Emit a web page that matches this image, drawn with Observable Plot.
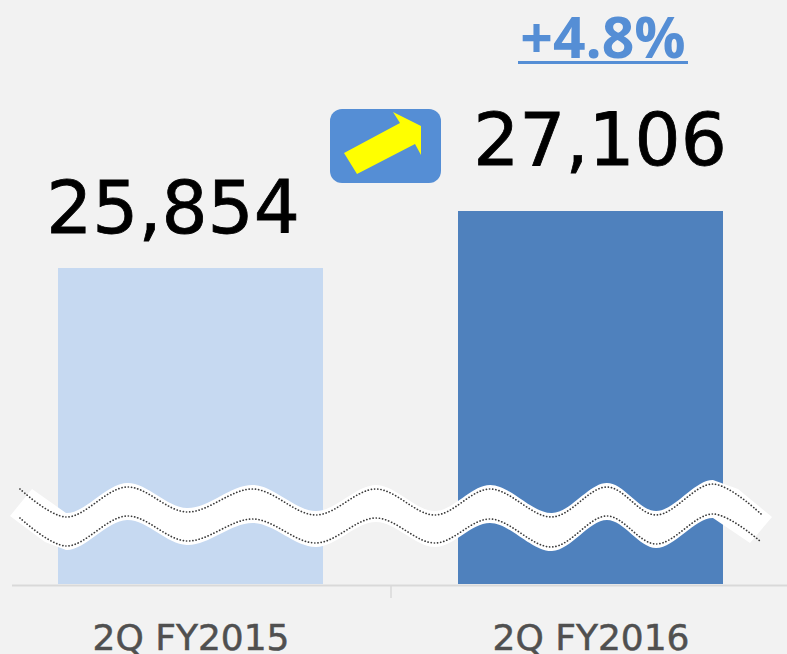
<!DOCTYPE html>
<html><head><meta charset="utf-8">
<script src="https://cdn.jsdelivr.net/npm/d3@7"></script>
<script src="https://cdn.jsdelivr.net/npm/@observablehq/plot@0.6"></script>
<style>
html,body{margin:0;padding:0;background:#f2f2f2;overflow:hidden}
svg{display:block}
</style></head><body>
<div id="chart"></div>
<script>
const periods = ["2Q FY2015", "2Q FY2016"];
const values = [25854, 27106];
const barColors = ["#c6d9f1", "#4f81bd"];
const changeLabel = "+4.8%";
const axisFloor = 18912; // the axis is broken: the wave marks the cut

// break band (dotted edges)
const waveX    = [20,66,127,187,253,316,376,435,490,552,607,656,713,761];
const waveTop  = [489,517,487,512,489,515,489,515,489,517,487,515,484,514];
const waveBot  = [518,546,516,541,519,543,518,543,519,547,516,544,514,542];
const arrowPts = [[344,153],[400,123],[393,112],[421,126],[421,155],[415,144],[357,174]];

const data = periods.map((period, i) => ({period, value: values[i], color: barColors[i]}));
const fmt = d3.format(",");
const font = "'DejaVu Sans', sans-serif";

function inner(points, line) {
  // the curve through all points, less its first and last segments
  const segs = line(points).split("C");
  return "C" + segs.slice(2, -1).join("C");
}

function decorations() {
  const g = d3.create("svg:g");
  // axis tick between the categories
  g.append("line").attr("x1",391).attr("x2",391).attr("y1",585).attr("y2",598)
    .attr("stroke","#d9d9d9").attr("stroke-width",1.5);
  // white band
  const line = d3.line().curve(d3.curveCatmullRom.alpha(0.5));
  const top = waveX.map((x,i)=>[x,waveTop[i]-4]);
  const bot = waveX.map((x,i)=>[x,waveBot[i]+4]).reverse();
  const band = `M10,516L32,489L${top[1]}` + inner(top, line)
    + `L738,489L772,517L750,543L${bot[1]}` + inner(bot, line)
    + `L45,542Z`;
  g.append("path").attr("d",band).attr("fill","#fff");
  for (const ys of [waveTop, waveBot]) {
    g.append("path").attr("d",line(waveX.map((x,i)=>[x,ys[i]])))
      .attr("fill","none").attr("stroke","#3a3a3a").attr("stroke-width",1.7)
      .attr("stroke-dasharray","0.1 3.1").attr("stroke-linecap","round");
  }
  // arrow badge
  g.append("rect").attr("x",330).attr("y",109).attr("width",111).attr("height",74).attr("rx",12)
    .attr("fill","#558ed5");
  g.append("polygon").attr("points",arrowPts.join(" ")).attr("fill","#ffff00");
  // underline of the change label
  g.append("rect").attr("x",518).attr("y",61).attr("width",170).attr("height",3).attr("fill","#558ed5");
  return g.node();
}

const plot = Plot.plot({
  width: 787, height: 654,
  marginLeft: 12, marginRight: 0, marginTop: 0, marginBottom: 70,
  style: {background: "#f2f2f2", fontFamily: font, overflow: "hidden"},
  x: {type: "band", domain: periods, range: [-9.7, 790.3], paddingInner: 0.3375, paddingOuter: 0.16875, align: 0.5, label: null},
  y: {domain: [axisFloor, 27106], range: [584, 211], axis: null},
  color: {type: "identity"},
  marks: [
    Plot.barY(data, {x: "period", y1: axisFloor, y2: "value", fill: "color"}),
    Plot.ruleY([axisFloor], {stroke: "#d9d9d9", strokeWidth: 2, dy: 1}),
    Plot.axisX({tickSize: 0, tickPadding: 0, fontSize: 36, fill: "#505050", label: null,
      dy: 40, lineAnchor: "top", className: "cat"}),
    decorations,
    Plot.text([data[0]], {x: "period", y: "value", text: d => fmt(d.value), fontSize: 72.5, fill: "#000",
      dx: -18, dy: -35, lineAnchor: "bottom", className: "val"}),
    Plot.text([data[1]], {x: "period", y: "value", text: d => fmt(d.value), fontSize: 72.5, fill: "#000",
      dx: 9, dy: -47, lineAnchor: "bottom", className: "val"}),
    Plot.text([data[1]], {x: "period", y: "value", text: () => changeLabel, fontSize: 57, fontWeight: 700,
      fontFamily: "'Open Sans', sans-serif", fill: "#558ed5", dx: 12, dy: -154, lineAnchor: "bottom"})
  ]
});
d3.select(plot).selectAll(".val text").attr("stroke", "#000").attr("stroke-width", 0.8);
d3.select(plot).selectAll(".cat text").attr("stroke", "#505050").attr("stroke-width", 0.5);
document.getElementById("chart").append(plot);
</script>
</body></html>
